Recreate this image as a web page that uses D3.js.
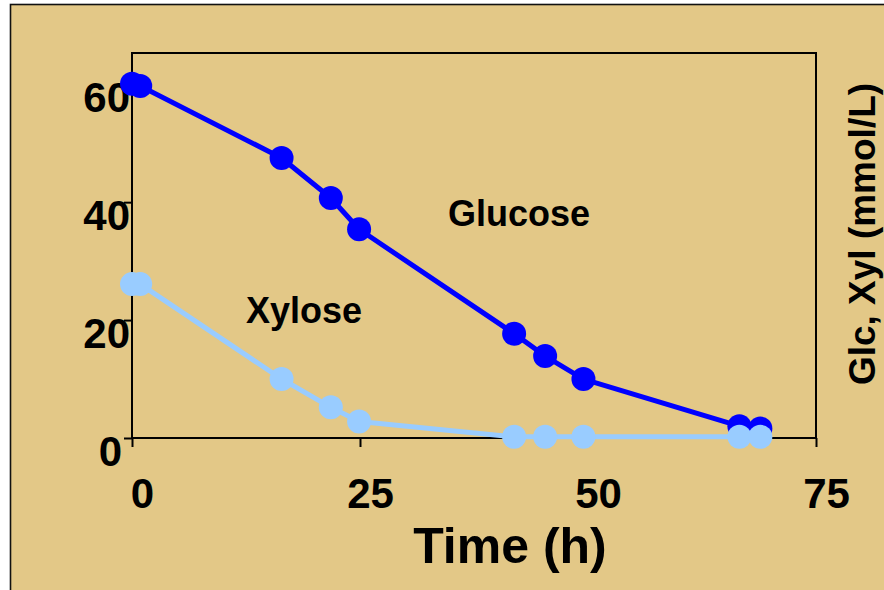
<!DOCTYPE html>
<html>
<head>
<meta charset="utf-8">
<script src="https://cdn.jsdelivr.net/npm/d3@7"></script>
<style>
  html, body { margin: 0; padding: 0; background: #fff; }
  svg { display: block; }
  text { font-family: "Liberation Sans", Arial, sans-serif; font-weight: bold; fill: #000; }
</style>
</head>
<body>
<svg id="chart"></svg>
<script>
"use strict";

// sampling times (h) and concentrations (mmol/L)
const glcTime = [0, 0.9, 16.4, 21.8, 24.9, 41.9, 45.3, 49.5, 66.6, 68.9];
const glcConc = [60.1, 59.7, 47.5, 40.7, 35.4, 17.7, 13.9, 10.0, 2.0, 1.6];
const xylTime = [0, 0.9, 16.4, 21.8, 24.9, 41.9, 45.3, 49.5, 66.6, 68.9];
const xylConc = [26.1, 26.1, 10.0, 5.2, 2.8, 0.2, 0.2, 0.2, 0.2, 0.2];

const xTicks = [0, 25, 50, 75];
const yTicks = [0, 20, 40, 60];
const seriesNames = ["Glucose", "Xylose"];

const WIDTH = 884, HEIGHT = 590;
const svg = d3.select("#chart").attr("width", WIDTH).attr("height", HEIGHT);

// tan panel with dark edge on top/left
svg.append("rect")
    .attr("x", 10.5).attr("y", 4.5)
    .attr("width", WIDTH).attr("height", HEIGHT)
    .attr("fill", "#E3C887")
    .attr("stroke", "#111")
    .attr("stroke-width", 1.6);

const plot = { left: 132, right: 816, top: 53, bottom: 438 };

const xScale = d3.scaleLinear().domain([0, 75]).range([plot.left, plot.right]);
const yScale = d3.scaleLinear().domain([0, 65.3]).range([plot.bottom, plot.top]);

// plot frame
svg.append("rect")
    .attr("x", plot.left).attr("y", plot.top)
    .attr("width", plot.right - plot.left).attr("height", plot.bottom - plot.top)
    .attr("fill", "none")
    .attr("stroke", "#000")
    .attr("stroke-width", 2);

const xAxis = svg.append("g")
    .attr("transform", `translate(0,${plot.bottom})`)
    .call(d3.axisBottom(xScale).tickValues(xTicks).tickSize(9).tickFormat(d3.format("d")));
xAxis.select(".domain").remove();
xAxis.selectAll(".tick line").attr("stroke", "#000").attr("stroke-width", 2);
xAxis.selectAll(".tick text")
    .attr("x", 10).attr("y", 70).attr("dy", 0)
    .attr("font-size", 42).attr("font-family", null);

const yAxis = svg.append("g")
    .attr("transform", `translate(${plot.left},0)`)
    .call(d3.axisLeft(yScale).tickValues(yTicks).tickSize(8).tickFormat(d3.format("d")));
yAxis.select(".domain").remove();
yAxis.selectAll(".tick line").attr("stroke", "#000").attr("stroke-width", 2);
yAxis.selectAll(".tick text")
    .attr("x", d => d === 0 ? -10 : -2).attr("y", 27).attr("dy", 0)
    .attr("font-size", 42).attr("font-family", null);

// axis titles
svg.append("text")
    .attr("x", 510).attr("y", 563)
    .attr("text-anchor", "middle")
    .attr("font-size", 50)
    .text("Time (h)");

svg.append("text")
    .attr("transform", "translate(875,234) rotate(-90)")
    .attr("text-anchor", "middle")
    .attr("font-size", 37)
    .text("Glc, Xyl (mmol/L)");

function drawSeries(times, values, color) {
    const pts = times.map((t, i) => [t, values[i]]);
    const line = d3.line().x(d => xScale(d[0])).y(d => yScale(d[1]));
    const g = svg.append("g");
    g.append("path")
        .attr("d", line(pts))
        .attr("fill", "none")
        .attr("stroke", color)
        .attr("stroke-width", 5)
        .attr("stroke-linejoin", "round");
    g.selectAll("circle")
        .data(pts)
        .join("circle")
        .attr("cx", d => xScale(d[0]))
        .attr("cy", d => yScale(d[1]))
        .attr("r", 12)
        .attr("fill", color);
}

drawSeries(glcTime, glcConc, "#0000FF");
drawSeries(xylTime, xylConc, "#99CCFF");

// in-plot series labels
svg.append("text")
    .attr("x", 519).attr("y", 226)
    .attr("text-anchor", "middle")
    .attr("font-size", 36)
    .text(seriesNames[0]);

svg.append("text")
    .attr("x", 304).attr("y", 323)
    .attr("text-anchor", "middle")
    .attr("font-size", 36)
    .text(seriesNames[1]);
</script>
</body>
</html>
